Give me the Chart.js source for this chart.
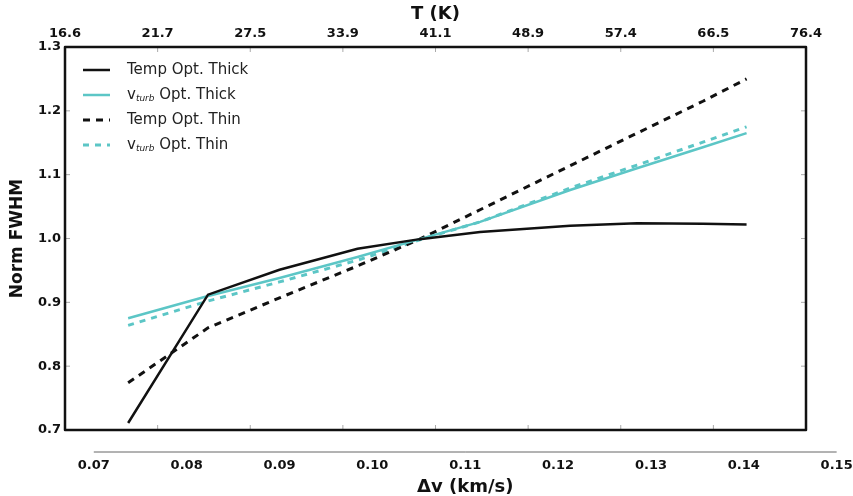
<!DOCTYPE html>
<html>
<head>
    <meta charset="utf-8">
    <title>Norm FWHM vs line width</title>
    <script src="https://cdn.jsdelivr.net/npm/chart.js@4.4.1/dist/chart.umd.min.js"></script>
    <style>
        body { margin: 0; background: #fff; }
    </style>
</head>
<body>
    <canvas id="fwhm-chart" width="853" height="496"></canvas>
    <script>
        // Δv (km/s) sample positions shared by all four curves
        const dv = [0.0737, 0.0823, 0.0900, 0.0984, 0.1051, 0.1116, 0.1213, 0.1285, 0.1356, 0.1403];

        const tempThick = [0.711, 0.912, 0.951, 0.984, 0.999, 1.010, 1.020, 1.024, 1.023, 1.022];
        const vturbThick = [0.875, 0.910, 0.938, 0.971, 0.999, 1.026, 1.076, 1.110, 1.143, 1.165];
        const tempThin = [0.774, 0.860, 0.907, 0.957, 0.999, 1.045, 1.114, 1.165, 1.215, 1.250];
        const vturbThin = [0.864, 0.902, 0.932, 0.966, 0.998, 1.026, 1.079, 1.115, 1.151, 1.175];

        const seriesNames = ['Temp Opt. Thick', 'v_{turb} Opt. Thick', 'Temp Opt. Thin', 'v_{turb} Opt. Thin'];

        // top axis: temperature labels, bottom axis: Δv labels
        const tLabels = ['16.6', '21.7', '27.5', '33.9', '41.1', '48.9', '57.4', '66.5', '76.4'];
        const dvTicks = [0.07, 0.08, 0.09, 0.10, 0.11, 0.12, 0.13, 0.14, 0.15];

        const CYAN = '#5cc6c6';
        const FONT = 'DejaVu Sans';

        Chart.defaults.font.family = FONT;
        Chart.defaults.color = '#111';

        const pts = (ys) => dv.map((x, i) => ({ x: x, y: ys[i] }));

        function makeSet(label, ys, color, dash, width) {
            return {
                label: label, data: pts(ys), borderColor: color, borderWidth: width,
                borderDash: dash, pointRadius: 0, tension: 0, fill: false,
                xAxisID: 'x', yAxisID: 'y'
            };
        }

        // draws "v_{turb} ..." with a small italic subscript
        function drawLabel(ctx, text, x, y) {
            const m = text.match(/^(.*?)_\{(.+?)\}(.*)$/);
            ctx.textBaseline = 'middle';
            ctx.textAlign = 'left';
            ctx.font = '15px ' + FONT;
            if (!m) { ctx.fillText(text, x, y); return; }
            ctx.fillText(m[1], x, y);
            x += ctx.measureText(m[1]).width;
            ctx.font = 'italic 9px ' + FONT;
            ctx.fillText(m[2], x, y + 4);
            x += ctx.measureText(m[2]).width;
            ctx.font = '15px ' + FONT;
            ctx.fillText(m[3], x, y);
        }

        const framePlugin = {
            id: 'frame',
            afterDatasetsDraw(chart) {
                const { ctx, chartArea: a, scales } = chart;
                ctx.save();

                // small inward tick marks
                ctx.strokeStyle = '#aaa';
                ctx.lineWidth = 1;
                const top = scales.xTop;
                top.ticks.forEach((t, i) => {
                    if (i === 0 || i === top.ticks.length - 1) return;
                    const px = top.getPixelForTick(i);
                    ctx.beginPath();
                    ctx.moveTo(px, a.top); ctx.lineTo(px, a.top + 5);
                    ctx.moveTo(px, a.bottom); ctx.lineTo(px, a.bottom - 5);
                    ctx.stroke();
                });
                const ys = scales.y;
                ys.ticks.forEach((t, i) => {
                    if (i === 0 || i === ys.ticks.length - 1) return;
                    const py = ys.getPixelForTick(i);
                    ctx.beginPath();
                    ctx.moveTo(a.left, py); ctx.lineTo(a.left + 5, py);
                    ctx.moveTo(a.right, py); ctx.lineTo(a.right - 5, py);
                    ctx.stroke();
                });

                // plot box
                ctx.strokeStyle = '#111';
                ctx.lineWidth = 2.5;
                ctx.lineJoin = 'round';
                ctx.strokeRect(a.left, a.top, a.right - a.left, a.bottom - a.top);

                // Δv axis under the box
                const xs = scales.x;
                const axisY = 452;
                const x0 = xs.getPixelForValue(dvTicks[0]);
                const x1 = xs.getPixelForValue(dvTicks[dvTicks.length - 1]);
                ctx.strokeStyle = '#666';
                ctx.lineWidth = 1;
                ctx.beginPath();
                ctx.moveTo(x0, axisY); ctx.lineTo(x1, axisY);
                ctx.stroke();

                ctx.fillStyle = '#111';
                ctx.font = 'bold 13px ' + FONT;
                ctx.textAlign = 'center';
                ctx.textBaseline = 'middle';
                dvTicks.forEach(v => {
                    ctx.fillText(v.toFixed(2), xs.getPixelForValue(v), 466);
                });
                ctx.font = 'bold 18px ' + FONT;
                ctx.fillText('\u0394v (km/s)', (x0 + x1) / 2, 487);

                // legend
                const legY = [70, 95, 120, 145];
                chart.data.datasets.forEach((ds, i) => {
                    ctx.strokeStyle = ds.borderColor;
                    ctx.lineWidth = ds.borderWidth;
                    ctx.setLineDash(ds.borderDash || []);
                    ctx.beginPath();
                    ctx.moveTo(83, legY[i]); ctx.lineTo(110, legY[i]);
                    ctx.stroke();
                    ctx.setLineDash([]);
                    ctx.fillStyle = '#222';
                    drawLabel(ctx, ds.label, 127, legY[i]);
                });

                ctx.restore();
            }
        };

        const chart = new Chart(document.getElementById('fwhm-chart'), {
            type: 'line',
            data: {
                datasets: [
                    makeSet(seriesNames[0], tempThick, '#111', [], 2.5),
                    makeSet(seriesNames[1], vturbThick, CYAN, [], 2.5),
                    makeSet(seriesNames[2], tempThin, '#111', [7, 6], 3),
                    makeSet(seriesNames[3], vturbThin, CYAN, [6, 6], 3)
                ]
            },
            options: {
                responsive: false,
                animation: false,
                layout: { padding: { right: 47, bottom: 66 } },
                plugins: {
                    legend: { display: false },
                    tooltip: { enabled: false }
                },
                scales: {
                    x: {
                        type: 'linear',
                        display: false,
                        min: 0.0669,
                        max: 0.1467
                    },
                    xTop: {
                        type: 'linear',
                        position: 'top',
                        min: 0,
                        max: tLabels.length - 1,
                        afterFit: (s) => { s.height = 47; },
                        grid: { display: false, drawTicks: false },
                        border: { display: false },
                        ticks: {
                            stepSize: 1,
                            padding: 6,
                            maxRotation: 0,
                            autoSkip: false,
                            font: { weight: 'bold', size: 13 },
                            callback: (v) => tLabels[v]
                        },
                        title: {
                            display: true,
                            text: 'T (K)',
                            font: { weight: 'bold', size: 18 },
                            padding: { top: 4, bottom: 0 }
                        }
                    },
                    y: {
                        min: 0.7,
                        max: 1.3,
                        afterFit: (s) => { s.width = 65; },
                        grid: { display: false, drawTicks: false },
                        border: { display: false },
                        ticks: {
                            stepSize: 0.1,
                            padding: 4,
                            font: { weight: 'bold', size: 13 },
                            callback: (v) => v.toFixed(1)
                        },
                        title: {
                            display: true,
                            text: 'Norm FWHM',
                            font: { weight: 'bold', size: 17 },
                            padding: { top: 7, bottom: 0 }
                        }
                    }
                }
            },
            plugins: [framePlugin]
        });
    </script>
</body>
</html>
